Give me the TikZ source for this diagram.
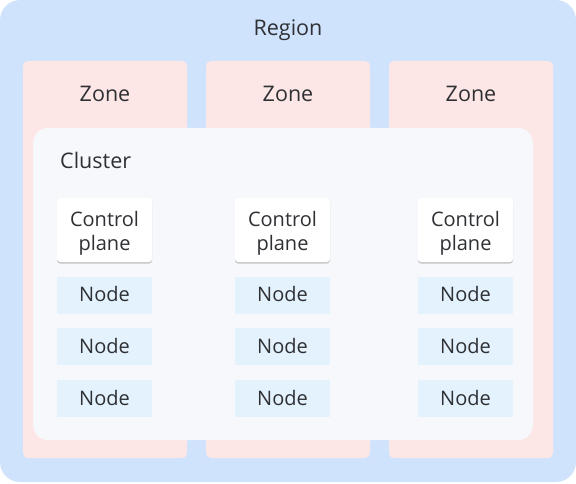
\documentclass[tikz,border=0pt]{standalone}
\usepackage{fontspec}
\setmainfont{Open Sans}
\usetikzlibrary{shadows}
\definecolor{regionc}{HTML}{D0E3FC}
\definecolor{zonec}{HTML}{FDE7E6}
\definecolor{clusterc}{HTML}{F6F8FB}
\definecolor{nodec}{HTML}{E4F2FD}
\definecolor{txt}{HTML}{2E3034}
\tikzset{
  regionbox/.style={fill=regionc, rounded corners=20pt},
  zonebox/.style={fill=zonec, rounded corners=5pt},
  clusterbox/.style={fill=clusterc, rounded corners=15pt},
  cpbox/.style={fill=white, rounded corners=3pt, minimum width=95pt, minimum height=64pt, inner sep=0pt, drop shadow={shadow xshift=0pt, shadow yshift=-1.5pt, opacity=0.35, fill=black!60}},
  cptext/.style={anchor=base, inner sep=0pt, font=\fontsize{20}{24}\selectfont, text=txt},
  nodebox/.style={fill=nodec, minimum width=95pt, minimum height=37pt, inner sep=0pt},
  nodetext/.style={anchor=base, inner sep=0pt, font=\fontsize{20}{24}\selectfont, text=txt},
  lbl/.style={anchor=base, font=\fontsize{21.5}{24}\selectfont, text=txt, inner sep=0pt}
}
\begin{document}
\begin{tikzpicture}[x=1pt,y=-1pt]
\useasboundingbox (0,0) rectangle (576,484);
\fill[regionbox] (0,0) rectangle (576,482);
\node[lbl] (region) at (288,36) {Region};
\foreach \i/\x in {1/23,2/206,3/389}{
  \fill[zonebox] (\x,61) rectangle ++(164,397);
  \node[lbl] (zone\i) at (\x+82,101.5) {Zone};
}
\fill[clusterbox] (33,128) rectangle (533,440);
\node[lbl, anchor=base west] (cluster) at (60,168) {Cluster};
\foreach \i/\x in {1/104.5,2/282.5,3/465.5}{
  \node[cpbox] (cp\i) at (\x,230) {};
  \node[cptext] (cpa\i) at (\x,226) {Control};
  \node[cptext] (cpb\i) at (\x,250) {plane};
  \node[nodebox] (na\i) at (\x,295) {};
  \node[nodetext] (nat\i) at (\x,301.5) {Node};
  \node[nodebox] (nb\i) at (\x,346.5) {};
  \node[nodetext] (nbt\i) at (\x,353) {Node};
  \node[nodebox] (nc\i) at (\x,398.5) {};
  \node[nodetext] (nct\i) at (\x,405) {Node};
}
\end{tikzpicture}
\end{document}
